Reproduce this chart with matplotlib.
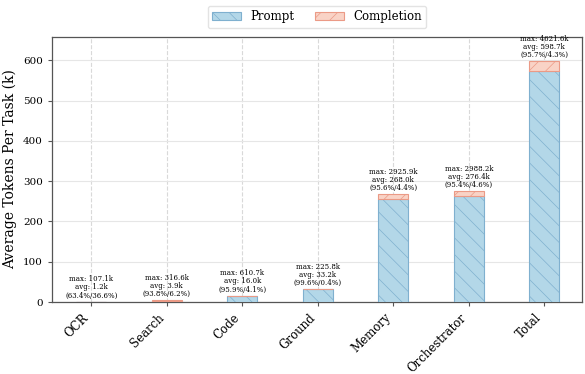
import matplotlib
matplotlib.use("Agg")
import matplotlib.pyplot as plt
import numpy as np

plt.rcParams["font.family"] = "DejaVu Serif"
plt.rcParams["hatch.linewidth"] = 0.5

categories = ["OCR", "Search", "Code", "Ground", "Memory", "Orchestrator", "Total"]
avg_tokens_k = [1.2, 3.9, 16.0, 33.2, 268.0, 276.4, 598.7]
max_tokens_k = [107.1, 316.6, 610.7, 225.8, 2925.9, 2988.2, 4621.6]
prompt_pct = [63.4, 93.8, 95.9, 99.6, 95.6, 95.4, 95.7]
completion_pct = [36.6, 6.2, 4.1, 0.4, 4.4, 4.6, 4.3]

avg = np.array(avg_tokens_k)
prompt = avg * np.array(prompt_pct) / 100.0
completion = avg * np.array(completion_pct) / 100.0

fig = plt.figure(figsize=(5.85, 3.74), dpi=100)
ax = fig.add_axes([0.0889, 0.1925, 0.906, 0.7094])

x = np.arange(len(categories))
width = 0.4
ax.bar(x, prompt, width, color="#b3d7e8", edgecolor="#7fb0cf", linewidth=0.8,
       hatch="\\\\", label="Prompt", zorder=3)
ax.bar(x, completion, width, bottom=prompt, color="#f9d3c6", edgecolor="#eb9a86",
       linewidth=0.8, hatch="//", label="Completion", zorder=3)

ymax = avg.max() * 1.1
for xi, a, m, p, c in zip(x, avg, max_tokens_k, prompt_pct, completion_pct):
    ax.text(xi, a + ymax * 0.008,
            f"max: {m:.1f}k\navg: {a:.1f}k\n({p:.1f}%/{c:.1f}%)",
            ha="center", va="bottom", fontsize=5, linespacing=1.0, zorder=4)

ax.set_xlim(-0.52, 6.5)
ax.set_ylim(0, ymax)
ax.set_xticks(x)
ax.set_xticklabels(categories, rotation=45, ha="right", fontsize=8.5)
ax.tick_params(axis="y", labelsize=7.5)
ax.tick_params(axis="both", length=3, color="#555555")
ax.set_ylabel("Average Tokens Per Task (k)", fontsize=10)

ax.yaxis.grid(True, color="#e6e6e6", linewidth=0.8, zorder=0)
ax.xaxis.grid(True, color="#d9d9d9", linestyle="--", linewidth=0.8, zorder=0)
ax.set_axisbelow(True)
for s in ax.spines.values():
    s.set_color("#555555")
    s.set_linewidth(0.9)

ax.legend(loc="lower center", bbox_to_anchor=(0.5, 1.01), ncol=2, fontsize=8.5,
          frameon=True, edgecolor="#dddddd", handlelength=2.4, columnspacing=1.8)

fig.savefig("out.png", dpi=100)
